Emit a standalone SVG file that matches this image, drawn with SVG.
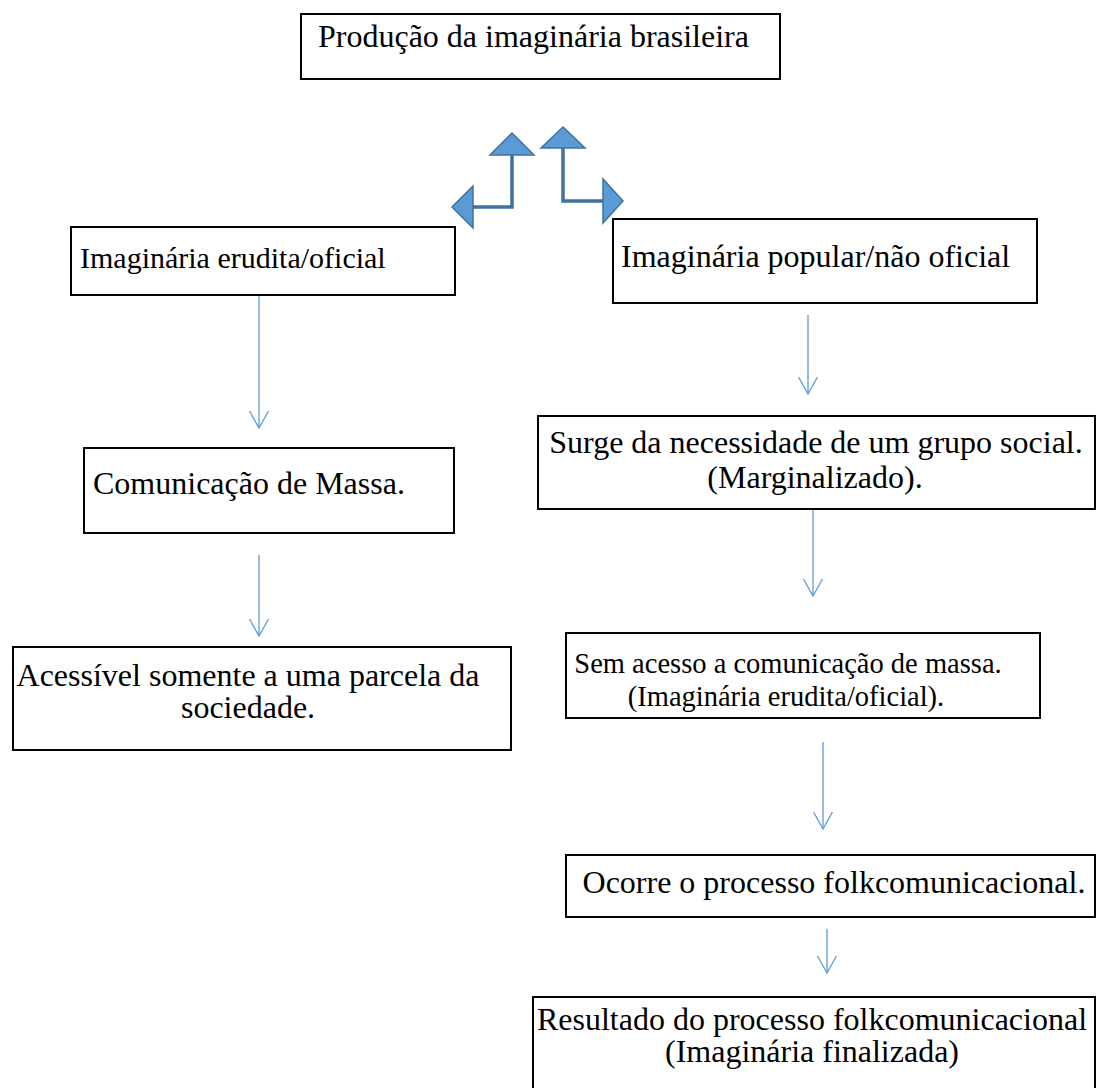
<svg xmlns="http://www.w3.org/2000/svg" width="1097" height="1088" viewBox="0 0 1097 1088">
<style>
.box{fill:#fff;stroke:#000;stroke-width:2}
.t{font-family:"Liberation Serif","Times New Roman",serif;font-size:32px;fill:#000}
.c{text-anchor:middle}
.conn{stroke:#5B9BD5;stroke-width:1.3;fill:none}
.bend{stroke:#41719C;stroke-width:3.5;fill:none}
.head{fill:#5B9BD5;stroke:#41719C;stroke-width:1.5;stroke-linejoin:miter}
</style>
<defs>
<marker id="open" viewBox="-18 -11 20 22" markerWidth="20" markerHeight="22" refX="0" refY="0" markerUnits="userSpaceOnUse" orient="auto">
<path d="M-17,-9.5 L0,0 L-17,9.5" fill="none" stroke="#5B9BD5" stroke-width="1.3"/>
</marker>
</defs>
<rect width="1097" height="1088" fill="#fff"/>
<g id="connectors">
<g id="bent-left">
<path class="bend" d="M512,155 V207 H473"/>
<polygon class="head" points="512,133 490,155 534,155"/>
<polygon class="head" points="452,207 473,186 473,228"/>
</g>
<g id="bent-right">
<path class="bend" d="M563,148 V201 H603"/>
<polygon class="head" points="563,127 541,148 585,148"/>
<polygon class="head" points="623,201 603,179 603,223"/>
</g>
<line class="conn" x1="259" y1="296" x2="259" y2="428" marker-end="url(#open)"/>
<line class="conn" x1="259" y1="555" x2="259" y2="636" marker-end="url(#open)"/>
<line class="conn" x1="808" y1="315" x2="808" y2="394" marker-end="url(#open)"/>
<line class="conn" x1="813" y1="510" x2="813" y2="596" marker-end="url(#open)"/>
<line class="conn" x1="823" y1="742" x2="823" y2="829" marker-end="url(#open)"/>
<line class="conn" x1="827" y1="929" x2="827" y2="973" marker-end="url(#open)"/>
</g>
<g id="n1">
<rect class="box" x="301" y="14" width="479" height="65"/>
<text class="t" x="318" y="47">Produção da imaginária brasileira</text>
</g>
<g id="n2">
<rect class="box" x="71" y="227" width="384" height="68"/>
<text class="t" x="80" y="268" style="font-size:30px">Imaginária erudita/oficial</text>
</g>
<g id="n3">
<rect class="box" x="613" y="219" width="424" height="84"/>
<text class="t" x="621" y="267">Imaginária popular/não oficial</text>
</g>
<g id="n4">
<rect class="box" x="84" y="448" width="370" height="85"/>
<text class="t" x="93" y="494">Comunicação de Massa.</text>
</g>
<g id="n5">
<rect class="box" x="13" y="647" width="498" height="103"/>
<text class="t c" x="248" y="686">Acessível somente a uma parcela da</text>
<text class="t c" x="248" y="718">sociedade.</text>
</g>
<g id="n6">
<rect class="box" x="538" y="416" width="557" height="93"/>
<text class="t c" x="816" y="453">Surge da necessidade de um grupo social.</text>
<text class="t c" x="815" y="488">(Marginalizado).</text>
</g>
<g id="n7">
<rect class="box" x="566" y="633" width="474" height="85"/>
<text class="t c" x="788" y="673" style="font-size:28.5px">Sem acesso a comunicação de massa.</text>
<text class="t c" x="786" y="706" style="font-size:28.5px">(Imaginária erudita/oficial).</text>
</g>
<g id="n8">
<rect class="box" x="566" y="855" width="529" height="62"/>
<text class="t c" x="834" y="893">Ocorre o processo folkcomunicacional.</text>
</g>
<g id="n9">
<rect class="box" x="533" y="997" width="562" height="100"/>
<text class="t c" x="812" y="1030">Resultado do processo folkcomunicacional</text>
<text class="t c" x="812" y="1062">(Imaginária finalizada)</text>
</g>
</svg>
